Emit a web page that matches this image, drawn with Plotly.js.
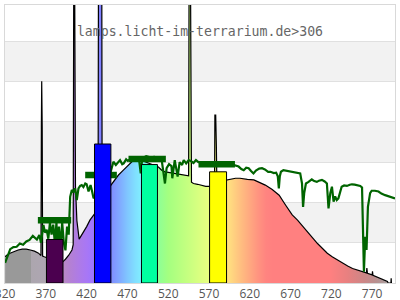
<!DOCTYPE html>
<html>
<head>
<meta charset="utf-8">
<script src="https://cdn.plot.ly/plotly-3.0.1.min.js"></script>
<style>html,body{margin:0;padding:0;background:#fff;}#chart{width:400px;height:300px;}</style>
</head>
<body>
<div id="chart"></div>
<script>
// ---- data ----
// lamp spectrum (black line, coloured fill)
const wl = [320,322,326,331,336,341,346,351,356,361,364,364.5,364.9,365.5,366,368,372,380,386,391,394,398,402,403.5,404.2,405.2,406.3,408,410.8,413,416,420,424,428.5,431,434,434.5,438.5,439,445,449.7,453,456,459,465,471,476,481,486,490,495,500,505,508,512,516,522,528,535,541,545,545.6,547.2,548.5,551,556,561,566,571,576.8,577.2,578.2,579,579.6,585,591.5,597,602.5,608,613,617,625,631,639,647.5,656,664,672,678.5,684.5,690.5,697,703,709,715,721,727.5,733.5,740,746,752,758,763,763.5,764.2,770,770.4,771,776.5,782,788.7,789.5,793,793.3,793.6];
const lamp = [6.5,6.9,7.4,7.9,8.2,8.4,8.4,8.2,7.9,7.4,6.8,38.7,50.1,38.7,6.7,6.5,6.2,5.8,5.6,5.3,5.9,6.9,8.2,9.5,80,80,24,15.5,10.9,11.6,12.7,14.0,15.6,16.9,17.5,18,80,80,20,23,24.3,25.1,26.0,26.8,28.0,29.3,30.2,30.8,30.8,30.2,29.8,29.5,29.1,28.8,28.0,27.6,27.4,27.2,27.0,26.8,26.6,80,80,25.0,24.7,24.5,24.3,24.0,24.0,24.5,41.7,41.7,34,25,25.3,25.6,25.9,26.0,26.0,25.8,25.7,25.6,25.1,24.3,23.2,21.8,19.3,16.9,15.6,14.1,12.7,11.2,9.8,8.5,7.4,6.5,5.7,4.9,4.2,3.6,3.2,2.8,2.5,3.7,2.4,2.0,2.9,1.9,1.4,1.0,0.4,0,0,1.2,0];

// reference spectrum (dark green line)
const sunWl = [320,321.3,323.3,326.3,330.2,334.2,338.1,342.1,346,350,354,359,362,364,367,369,371,373,375,377,379,381,383,384,386,388,390,392,394,396,398,399.8,401.8,403.8,405.8,407.9,410,412,414,416,418.3,420,422.3,424.8,426.7,428.5,432,440,448,452.8,455.8,457.8,460.9,463.6,465.4,468.4,470.4,475.3,480.3,484.3,486.3,488.2,493,498,503,508,512,516,518,521,524,525,528,531.5,534,537,539,542,545,548,551,554,557,560,570,580,590,597,600,602.6,606.3,609.6,612.6,615.6,618.6,621.5,624.5,627.5,631.5,635,638.5,642.5,645.4,649.4,652.3,654.3,655.6,656.8,658.2,661.2,664.2,667.1,671.6,676,681.8,684,685.3,686.7,688.8,692,696,699,702.2,704.8,708.4,711.8,714.5,716.5,718.7,720.7,722.7,724.6,726.6,728.6,730.6,732.6,735.6,739,742.6,745.2,748.6,751.6,755.4,757.6,758.5,759.9,761.5,763.1,764.8,767.5,769.4,773.4,777.8,781.3,785.9,789.2,792.2,795.2,798];
const sun = [5.0,5.7,7.0,8.4,8.9,9.0,9.8,9.5,10.3,10.7,11.7,10.8,11.9,10.0,14.4,12.5,13.2,11.0,15.0,12.0,14.5,10.0,15.0,8.0,14.0,9.0,15.0,10.0,8.1,14.0,12.0,21.4,23.1,22.5,23.5,20.6,23.5,24.1,24.3,23.8,24.7,24.5,22.7,24.3,22.7,21.0,22.0,24.0,26.5,30.1,29.3,29.8,30.5,29.5,29.7,30.7,30.3,31.0,31.2,30.5,27.2,31.0,31.5,31.2,31.3,31.0,30.5,24.7,28.5,29.5,29.0,26.0,30.5,26.4,30.0,29.3,30.5,29.7,30.5,30.2,29.8,30.5,30.0,30.0,29.8,29.5,29.3,29.5,29.3,29.0,28.9,28.3,28.0,28.6,28.5,27.8,27.2,27.9,28.4,28.5,28.2,27.6,27.6,27.3,27.4,26.5,23.5,26.5,27.6,28.0,27.9,27.8,27.6,27.5,27.2,24.7,18.9,22.3,24.7,25.1,25.7,25.3,25.1,25.4,25.6,25.2,24.7,18.5,22.3,23.9,20.2,21.5,20.6,21.0,22.5,23.9,24.2,24.1,24.4,24.5,24.4,24.3,24.1,23.7,14.0,2.8,11.5,8.2,18.9,22.3,22.9,22.9,22.7,22.2,21.8,21.6,21.4,21.2,21.0];

// band averages (thick dark green segments)
const bandStart = [360.2, 418.2, 471.3, 557.1];
const bandEnd   = [401.0, 457.0, 517.1, 601.8];
const bandValue = [15.6, 26.8, 30.8, 29.5];

// coloured bars
const barStart  = [370.7, 429.6, 487.2, 570.7];
const barEnd    = [391.0, 449.7, 506.8, 591.5];
const barHeight = [10.8, 34.5, 29.4, 27.6];
const barColor  = ['#4b004f', '#0000ff', '#00ffa0', '#ffff00'];

// axis ticks
const tickVals = [320, 370, 420, 470, 520, 570, 620, 670, 720, 770];
const tickText = ['320', '370', '420', '470', '520', '570', '620', '670', '720', '770'];
const titleText = 'lamps.licht-im-terrarium.de>306';

// ---- style ----
const xMin = 319.9, xMax = 798.0, yMax = 69;
const colorStops = [[320,'#999999'],[352,'#999999'],[352.1,'#aca6ae'],[370,'#aea6b2'],[391,'#b98ac4'],[400,'#b480d4'],[410,'#ae7be6'],[420,'#a877f5'],[429,'#9c76ff'],[436,'#8080ff'],[450,'#808cff'],[460,'#80a8ff'],[470,'#80c6ff'],[480,'#80e0ff'],[487,'#80eeff'],[507,'#8cff98'],[520,'#a4ff80'],[540,'#c0ff80'],[560,'#dcff80'],[571,'#eaff80'],[591,'#ffe680'],[600,'#ffd280'],[610,'#ffbc80'],[620,'#ffa880'],[630,'#ff9480'],[640,'#ff8480'],[648,'#ff8080'],[718,'#ff8080'],[740,'#e88080'],[760,'#cc8686'],[775,'#b89090'],[790,'#a8a0a0'],[798,'#a0a0a0']];
const gStart = 320, gStop = 798;
const colorscale = colorStops.map(s => [(s[0]-gStart)/(gStop-gStart), s[1]]);

const traces = [];
traces.push({
  type: 'scatter', mode: 'lines', x: wl, y: lamp,
  fill: 'tozeroy',
  fillgradient: {type: 'horizontal', start: gStart, stop: gStop, colorscale: colorscale},
  line: {color: '#000000', width: 1.2},
  hoverinfo: 'skip'
});
traces.push({
  type: 'scatter', mode: 'lines', x: sunWl, y: sun,
  line: {color: '#006400', width: 2.2}, hoverinfo: 'skip'
});
const segX = [], segY = [];
bandStart.forEach((s, i) => { segX.push(s, bandEnd[i], null); segY.push(bandValue[i], bandValue[i], null); });
traces.push({
  type: 'scatter', mode: 'lines', x: segX, y: segY,
  line: {color: '#006400', width: 6.5}, connectgaps: false, hoverinfo: 'skip'
});
traces.push({
  type: 'bar',
  x: barStart.map((s, i) => (s + barEnd[i]) / 2),
  y: barHeight,
  width: barStart.map((s, i) => barEnd[i] - s),
  marker: {color: barColor, line: {color: '#000000', width: 1}},
  xaxis: 'x2', yaxis: 'y2', hoverinfo: 'skip'
});

const shapes = [];
for (let k = 10; k < yMax; k += 20) {
  shapes.push({type: 'rect', xref: 'paper', yref: 'y', x0: 0, x1: 1, y0: k, y1: Math.min(k + 10, yMax),
    fillcolor: '#f2f2f2', line: {width: 0}, layer: 'below'});
}

const layout = {
  width: 400, height: 300,
  margin: {l: 5, r: 5, t: 5, b: 17, pad: 0},
  paper_bgcolor: '#ffffff', plot_bgcolor: '#ffffff',
  showlegend: false,
  title: {text: titleText, x: 0.5, xref: 'paper', xanchor: 'center',
          y: 1 - 31.3/300, yref: 'container', yanchor: 'middle',
          font: {family: 'DejaVu Sans Mono', size: 13.2, color: '#666666'}},
  xaxis: {range: [xMin, xMax], tickmode: 'array', tickvals: tickVals, ticktext: tickText,
          showgrid: false, zeroline: false, ticks: '', ticklabeloverflow: 'allow',
          showline: true, mirror: true, linecolor: '#d9d9d9', linewidth: 1,
          tickfont: {family: 'Open Sans', size: 12, color: '#555555'}},
  yaxis: {range: [0, yMax], dtick: 10, tick0: 0, showgrid: true, gridcolor: '#e0e0e0', gridwidth: 1,
          zeroline: false, showticklabels: false, ticks: '',
          showline: true, mirror: true, linecolor: '#d9d9d9', linewidth: 1},
  xaxis2: {range: [xMin, xMax], overlaying: 'x', anchor: 'y2', visible: false},
  yaxis2: {range: [0, yMax], overlaying: 'y', anchor: 'x2', visible: false},
  shapes: shapes
};

Plotly.newPlot('chart', traces, layout, {staticPlot: true, displayModeBar: false});
</script>
</body>
</html>
